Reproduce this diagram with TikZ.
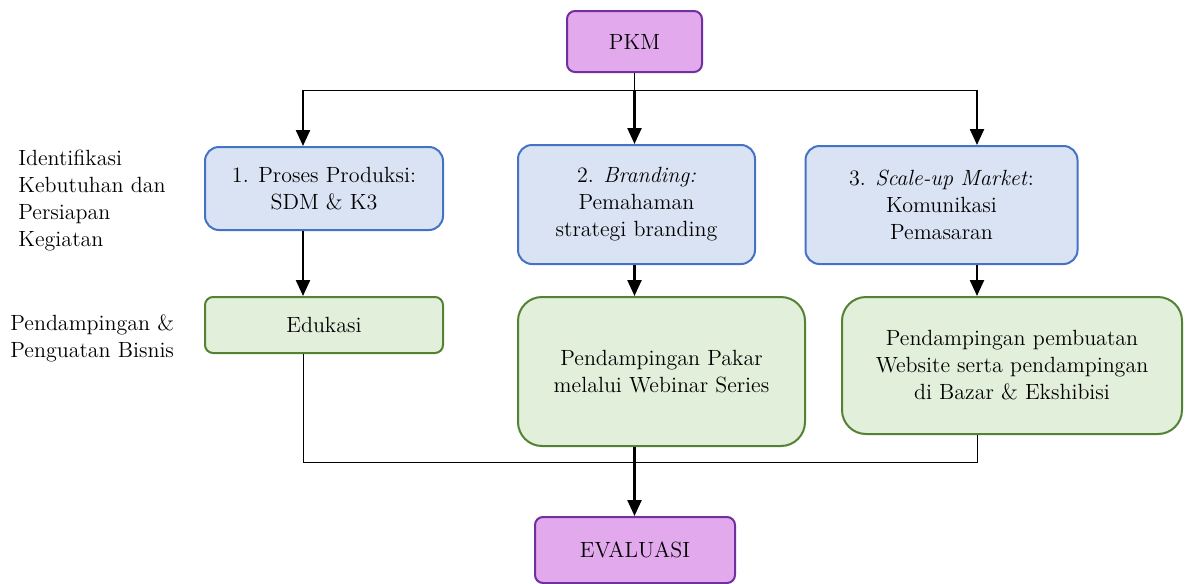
\documentclass[tikz,border=0pt]{standalone}
\usepackage{tikz}
\usetikzlibrary{arrows.meta, positioning}
\definecolor{pkmpurple}{RGB}{226, 169, 236}
\definecolor{pkmborder}{RGB}{112, 48, 160}
\definecolor{stepblue}{RGB}{218, 227, 243}
\definecolor{stepborder}{RGB}{68, 114, 196}
\definecolor{actgreen}{RGB}{226, 239, 218}
\definecolor{actborder}{RGB}{84, 130, 53}

\tikzset{
  purplebox/.style={draw=pkmborder, fill=pkmpurple, line width=1pt, rounded corners=4pt, align=center},
  bluebox/.style={draw=stepborder, fill=stepblue, line width=1pt, rounded corners=7pt, align=center},
  greenbox/.style={draw=actborder, fill=actgreen, line width=1pt, rounded corners=12pt, align=center},
  arrowline/.style={line width=1.2pt, -{Triangle[width=7pt,length=8pt]}},
  plainline/.style={line width=0.5pt}
}

\begin{document}
\begin{tikzpicture}[x=0.5pt, y=-0.5pt, font=\fontsize{11}{13.5}\selectfont]
\useasboundingbox (0,0) rectangle (1185,584);

% boxes
\node[purplebox, minimum width=67.5pt, minimum height=30.5pt] (pkm) at (634.5,41.5) {PKM};
\node[bluebox, minimum width=119pt, minimum height=41.5pt] (produksi) at (324,188.5) {1. Proses Produksi:\\SDM \& K3};
\node[bluebox, minimum width=118.5pt, minimum height=59.5pt] (branding) at (636.5,204.5) {2. \textit{Branding:}\\Pemahaman\\strategi branding};
\node[bluebox, minimum width=136pt, minimum height=59pt] (market) at (941.5,205) {3. \textit{Scale-up Market}:\\Komunikasi\\Pemasaran};
\node[greenbox, rounded corners=4pt, minimum width=119pt, minimum height=28pt] (edukasi) at (324,325) {Edukasi};
\node[greenbox, minimum width=143.5pt, minimum height=74.5pt] (webinar) at (661.5,371.5) {Pendampingan Pakar\\melalui Webinar Series};
\node[greenbox, minimum width=170pt, minimum height=68.5pt] (website) at (1012,365.5) {Pendampingan pembuatan\\Website serta pendampingan\\di Bazar \& Ekshibisi};
\node[purplebox, minimum width=100pt, minimum height=33pt] (evaluasi) at (635,550) {EVALUASI};

% left labels
\node[anchor=west, inner sep=0pt, align=left] (persiapan) at (18,200.5) {Identifikasi\\Kebutuhan dan\\Persiapan\\Kegiatan};
\node[anchor=west, inner sep=0pt, align=left] (penguatan) at (10,338.5) {Pendampingan \&\\Penguatan Bisnis};

% junctions
\coordinate (tl) at (303,90);
\coordinate (tr) at (977,90);
\coordinate (bl) at (303,462);
\coordinate (br) at (977,462);

% connectors
\draw[plainline] (pkm) -- (pkm |- tl);
\draw[plainline] (tl) -- (tr);
\draw[arrowline] (pkm |- tl) -- (pkm |- branding.north);
\draw[arrowline] (tl) -- (tl |- produksi.north);
\draw[arrowline] (tr) -- (tr |- market.north);
\draw[arrowline] (tl |- produksi.south) -- (tl |- edukasi.north);
\draw[arrowline] (pkm |- branding.south) -- (pkm |- webinar.north);
\draw[arrowline] (tr |- market.south) -- (tr |- website.north);
\draw[plainline] (tl |- edukasi.south) -- (bl) -- (br) -- (tr |- website.south);
\draw[arrowline] (pkm |- webinar.south) -- (pkm |- evaluasi.north);
\end{tikzpicture}
\end{document}
